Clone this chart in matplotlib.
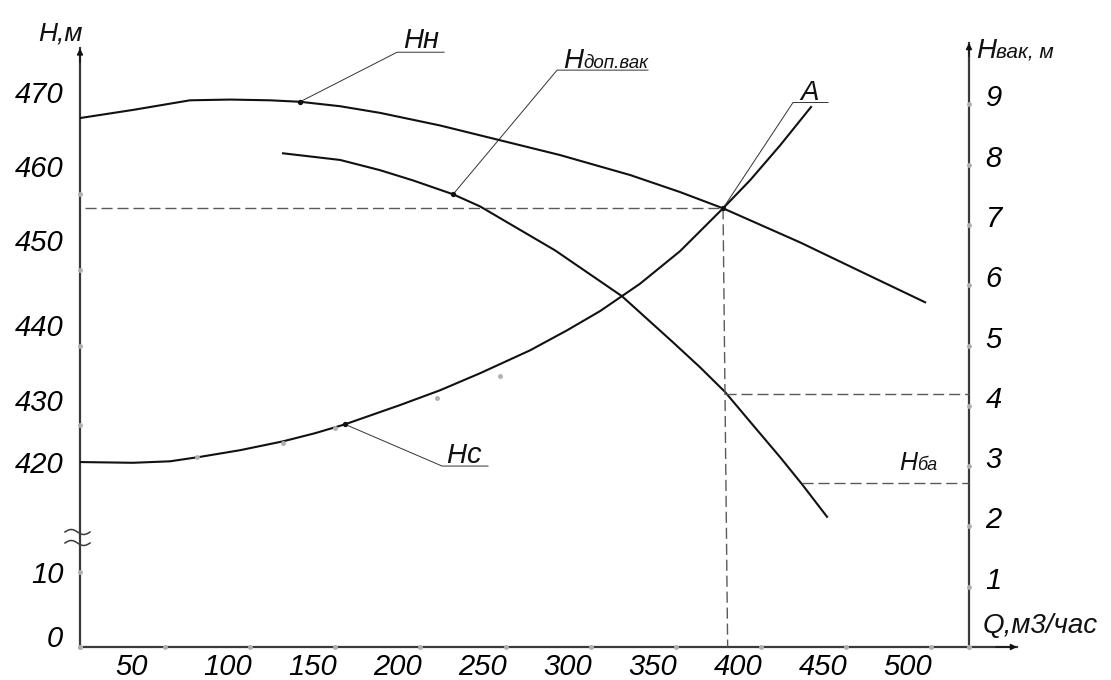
import numpy as np
import matplotlib
matplotlib.use("Agg")
import matplotlib.pyplot as plt
from matplotlib.transforms import ScaledTranslation

plt.rcParams['font.family'] = ['Liberation Sans Narrow', 'Liberation Sans', 'DejaVu Sans']
plt.rcParams['font.style'] = 'italic'

# напорная характеристика насоса Hн(Q), левая шкала
q_pump = [0, 31.1, 64.6, 88.1, 111.6, 129.3, 152.8, 176.3, 211.5, 246.8, 282.0, 323.2,
          352.5, 377.8, 423.0, 458.3, 496.5]
h_pump = [466.5, 467.6, 468.9, 469.0, 468.9, 468.7, 468.1, 467.2, 465.5, 463.5, 461.5, 458.8,
          456.5, 454.3, 449.7, 445.8, 441.6]

# характеристика сети Hс(Q), левая шкала
q_net = [0, 31.1, 52.9, 70.5, 94.0, 119.3, 138.1, 155.7, 188.0, 211.5, 235.0, 264.4,
         286.1, 305.5, 329.0, 352.5, 377.8, 393.7, 411.3, 429.5]
h_net = [420.0, 419.9, 420.1, 420.7, 421.6, 422.8, 423.9, 425.1, 427.7, 429.7, 432.0, 435.1,
         437.8, 440.4, 444.1, 448.5, 454.3, 458.1, 462.8, 468.0]

# расчетные точки сети (серые)
q_net_pts = [69, 119, 150, 210, 247]
h_net_pts = [420.7, 422.6, 424.6, 428.6, 431.6]

# допустимый вакуум Hдоп.вак(Q), правая шкала
q_vac = [119.3, 152.8, 176.3, 195.7, 219.2, 235.0, 279.1, 318.4, 347.8, 364.3, 379.0,
         396.6, 411.3, 424.2, 438.9]
h_vac = [8.19, 8.08, 7.91, 7.74, 7.51, 7.31, 6.58, 5.82, 5.07, 4.64, 4.23,
         3.64, 3.15, 2.70, 2.16]

# рабочая точка A и уровни
q_a, h_a = 377.8, 454.3
hvak_a = 4.2
q_ba, h_ba = 424.2, 2.72
q_right = 522.3   # положение правой оси

x_ticks = [50, 100, 150, 200, 250, 300, 350, 400, 450, 500]
left_ticks = [0, 10, 420, 430, 440, 450, 460, 470]
right_ticks = [1, 2, 3, 4, 5, 6, 7, 8, 9]
left_dots = [0, 10, 425, 435.7, 446, 456.2]

# разрыв левой шкалы: H -> единицы правой шкалы
h_nodes = [0, 14, 410, 500]
v_nodes = [0, 1.741, 1.841, 12.886]


def h2v(h):
    return np.interp(h, h_nodes, v_nodes)


def v2h(v):
    return np.interp(v, v_nodes, h_nodes)


W, H = 1111, 680
fig = plt.figure(figsize=(W / 100, H / 100), dpi=100)
ax = fig.add_axes([80 / W, 33 / H, 889 / W, 604 / H])
ax.set_xlim(0, q_right)
ax.set_ylim(0, 10.02)
ax2 = ax.twinx()
ax2.set_yscale('function', functions=(h2v, v2h))
ax2.set_ylim(v2h(0), v2h(10.02))

for a in (ax, ax2):
    for s in a.spines.values():
        s.set_visible(False)

curve = '#111111'
axis_col = '#3a3a3a'
dash_col = '#5a5a5a'
lead_col = '#333333'
dots_col = '#b0b0b0'
fs = 21

# оси
ax.plot([0, 0], [0, 9.93], color=axis_col, lw=1.6, clip_on=False)
ax.plot([q_right, q_right], [0, 10.02], color=axis_col, lw=1.6, clip_on=False)
ax.plot([0, 550.5], [0, 0], color=axis_col, lw=1.6, clip_on=False)
arr = dict(arrowstyle='-|>', color='#111111', lw=1.0, mutation_scale=9, shrinkA=0, shrinkB=0)
ax.annotate('', xy=(0, 9.93), xytext=(0, 9.7), arrowprops=arr, annotation_clip=False)
ax.annotate('', xy=(q_right, 10.02), xytext=(q_right, 9.8), arrowprops=arr, annotation_clip=False)
ax.annotate('', xy=(550.5, 0), xytext=(538, 0), arrowprops=arr, annotation_clip=False)

# серые точки на осях
ax.plot([0] + x_ticks + [q_right], [0] * 12, 'o', ms=2.5, color=dots_col, clip_on=False, zorder=5)
ax.plot([q_right] * 10, [0] + right_ticks, 'o', ms=2.5, color=dots_col, clip_on=False, zorder=5)
ax2.plot([0] * len(left_dots), left_dots, 'o', ms=2.5, color=dots_col, clip_on=False, zorder=5)

# знак разрыва
t = np.linspace(0, 1, 30)
for yb in (532, 543):
    xs = (65 + 25 * t) / W
    ys = 1 - (yb - 2.5 * np.sin(2 * np.pi * t)) / H
    fig.lines.append(plt.Line2D(xs, ys, color=axis_col, lw=1.1, transform=fig.transFigure))

# кривые
ax2.plot(q_pump, h_pump, color=curve, lw=1.5, solid_joinstyle='round')
ax2.plot(q_net, h_net, color=curve, lw=1.5, solid_joinstyle='round')
ax2.plot(q_net_pts, h_net_pts, 'o', ms=2.5, color=dots_col)
ax.plot(q_vac, h_vac, color=curve, lw=1.5, solid_joinstyle='round')

# пунктир
dsh = dict(color=dash_col, lw=1.0, dashes=(8, 3.5))
ax2.plot([3, q_a], [h_a, h_a], **dsh)
ax.plot([q_a, 380.5], [h2v(h_a), 0], **dsh)
ax.plot([379, q_right], [hvak_a, hvak_a], **dsh)
ax.plot([q_ba, q_right], [h_ba, h_ba], **dsh)

# выноски
ld = dict(color=lead_col, lw=0.7, clip_on=False)
ax2.plot([129.3, 186.3, 213.9], [468.7, 475.4, 475.4], **ld)
ax2.plot([155.7, 212.7, 239.7], [425.1, 419.46, 419.46], **ld)
ax2.plot([q_a, 418.9, 439.5], [h_a, 468.6, 468.6], **ld)
ax.plot([219.2, 280.3, 333.7], [7.51, 9.57, 9.57], **ld)
ax2.plot([129.3, 155.7, q_a], [468.7, 425.1, h_a], 'o', ms=2.8, color='#111111')
ax.plot([219.2], [7.51], 'o', ms=2.8, color='#111111')


def label(x, y, big, small='', fb=fs, fsm=fs, gap=0):
    fig.text(x / W, 1 - y / H, big, fontsize=fb, va='baseline', ha='left', color='#111111')
    if small:
        fig.text((x + gap) / W, 1 - y / H, small, fontsize=fsm, va='baseline', ha='left',
                 color='#111111')


label(38, 40, 'H,м', fb=19)
label(403, 48, 'H', 'н', fb=20, gap=20)
label(563, 68, 'H', 'доп.вак', fb=20, fsm=13.5, gap=20)
label(800, 100, 'A', fb=20)
label(446, 463, 'H', 'с', fb=20, gap=20)
label(899, 470, 'H', 'ба', fb=18, fsm=13, gap=18)
label(976, 58, 'H', 'вак, м', fb=20, fsm=15, gap=20)
label(983, 633, 'Q,м3/час', fb=20)

# подписи шкал
ax.set_xticks(x_ticks)
ax.set_xticklabels([str(v) for v in x_ticks], fontsize=fs)
ax.tick_params(axis='x', length=0, pad=4)
for v, lab in zip(x_ticks, ax.get_xticklabels()):
    dx = -34 if v == 50 else -23
    lab.set_transform(lab.get_transform() + ScaledTranslation(dx / 100, 0, fig.dpi_scale_trans))

ax.yaxis.tick_right()
ax.set_yticks(right_ticks)
ax.set_yticklabels([str(v) for v in right_ticks], fontsize=fs)
ax.tick_params(axis='y', length=0, pad=12)
for lab in ax.get_yticklabels():
    lab.set_transform(lab.get_transform() + ScaledTranslation(0, 9 / 100, fig.dpi_scale_trans))

ax2.yaxis.tick_left()
ax2.set_yticks(left_ticks)
ax2.set_yticklabels([str(v) for v in left_ticks], fontsize=fs)
ax2.tick_params(axis='y', length=0, pad=12)
shift = {0: 11, 430: -12, 440: -11}
for v, lab in zip(left_ticks, ax2.get_yticklabels()):
    lab.set_transform(lab.get_transform() + ScaledTranslation(0, shift.get(v, 0) / 100, fig.dpi_scale_trans))

fig.savefig('out.png', dpi=100)
